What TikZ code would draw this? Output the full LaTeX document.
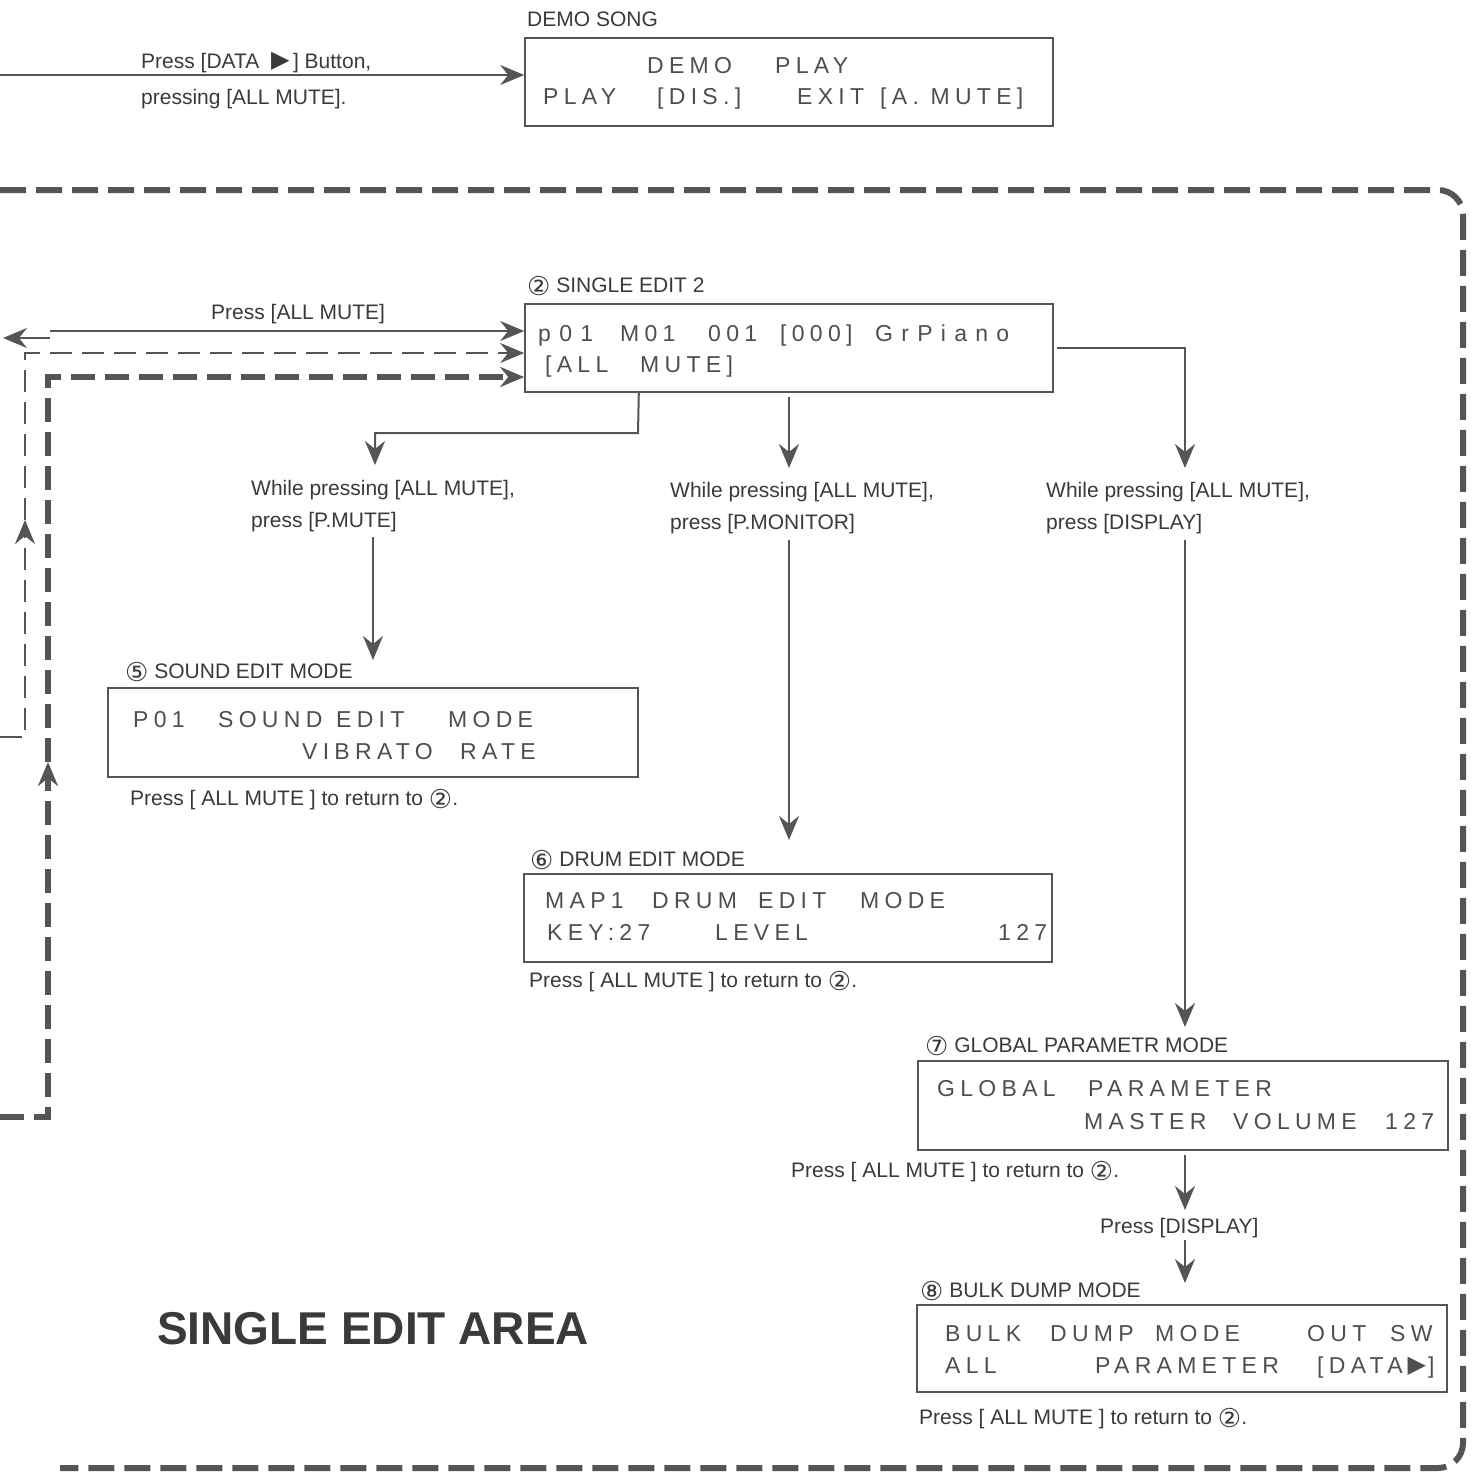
\documentclass[tikz,border=0pt]{standalone}
\usepackage{fontspec}
\setmainfont{Liberation Sans}
\newfontfamily\lcdfont[LetterSpace=23]{Liberation Sans}
\newfontfamily\lcdwide[LetterSpace=36]{Liberation Sans}
\newfontfamily\symfont{DejaVu Sans}
\usetikzlibrary{arrows.meta}
\definecolor{ink}{HTML}{3A3A3A}
\definecolor{linec}{HTML}{555555}
\newcommand\cnum[1]{{\symfont\fontsize{26}{28}\selectfont\raisebox{-3.5pt}{#1}}}
\newcommand\tri{{\symfont\fontsize{24}{26}\selectfont\raisebox{0.5pt}{▶}}}
\begin{document}
\begin{tikzpicture}[x=1pt,y=-1pt,
  >={Stealth[length=24pt,width=20pt,inset=8pt]},
  lbl/.style={anchor=base west, inner sep=0pt, text=ink, font=\fontsize{21}{25}\selectfont},
  lcd/.style={anchor=base west, inner sep=0pt, text=ink!90, font=\lcdfont\fontsize{23}{27}\selectfont},
  lcdw/.style={lcd, font=\lcdwide\fontsize{23}{27}\selectfont},
  lcdbox/.style={draw=linec, line width=1.6pt, inner sep=0pt},
  conn/.style={draw=linec, line width=2pt},
  thindash/.style={draw=linec, line width=2.5pt, dash pattern=on 22pt off 10pt},
  thickdash/.style={draw=linec, line width=6pt, dash pattern=on 24pt off 10pt},
  frame/.style={draw=linec, line width=6pt, dash pattern=on 26pt off 10pt, rounded corners=25pt}]
\useasboundingbox (0,0) rectangle (1475,1473);
\fill[white] (0,0) rectangle (1475,1473);

% frame
\draw[frame] (0,190) -- (1463,190) -- (1463,1468) -- (60,1468);

% boxes
\node[lcdbox, minimum width=528pt, minimum height=88pt] (demo) at (789,82) {};
\node[lcdbox, minimum width=528pt, minimum height=88pt] (s2) at (789,348) {};
\node[lcdbox, minimum width=530pt, minimum height=89pt] (snd) at (373,732.5) {};
\node[lcdbox, minimum width=528pt, minimum height=88pt] (drum) at (788,918) {};
\node[lcdbox, minimum width=530pt, minimum height=89pt] (glob) at (1183,1105.5) {};
\node[lcdbox, minimum width=530pt, minimum height=87pt] (bulk) at (1182,1348.5) {};

% demo song
\node[lbl] (ldemo) at (527,26) {DEMO SONG};
\node[lcd] (d11) at (647,73) {DEMO};
\node[lcd] (d12) at (775,73) {PLAY};
\node[lcd] (d21) at (543,104) {PLAY};
\node[lcd] (d22) at (657,104) {[DIS.]};
\node[lcd] (d23) at (797,104) {EXIT};
\node[lcd] (d24) at (880,104) {[A. MUTE]};

% single edit 2
\node[lbl] (ls2) at (527,292) {\cnum{②} SINGLE EDIT 2};
\node[lcdw] (s11) at (538,341) {p01};
\node[lcd] (s12) at (620,341) {M01};
\node[lcd] (s13) at (708,341) {001};
\node[lcd] (s14) at (780,341) {[000]};
\node[lcdw] (s15) at (875,341) {GrPiano};
\node[lcd] (s21) at (545,372) {[ALL};
\node[lcd] (s22) at (640,372) {MUTE]};

% sound edit
\node[lbl] (lsnd) at (125,678) {\cnum{⑤} SOUND EDIT MODE};
\node[lcd] (n11) at (133,727) {P01};
\node[lcd] (n12) at (218,727) {SOUND};
\node[lcd] (n13) at (336,727) {EDIT};
\node[lcd] (n14) at (448,727) {MODE};
\node[lcd] (n21) at (302,759) {VIBRATO};
\node[lcd] (n22) at (460,759) {RATE};
\node[lbl] (rsnd) at (130,805) {Press [ ALL MUTE ] to return to \cnum{②}.};

% drum edit
\node[lbl] (ldrum) at (530,866) {\cnum{⑥} DRUM EDIT MODE};
\node[lcd] (m11) at (545,908) {MAP1};
\node[lcd] (m12) at (652,908) {DRUM};
\node[lcd] (m13) at (758,908) {EDIT};
\node[lcd] (m14) at (860,908) {MODE};
\node[lcd] (m21) at (547,940) {KEY:27};
\node[lcd] (m22) at (715,940) {LEVEL};
\node[lcd] (m23) at (998,940) {127};
\node[lbl] (rdrum) at (529,987) {Press [ ALL MUTE ] to return to \cnum{②}.};

% global
\node[lbl] (lglob) at (925,1052) {\cnum{⑦} GLOBAL PARAMETR MODE};
\node[lcd] (g11) at (937,1096) {GLOBAL};
\node[lcd] (g12) at (1088,1096) {PARAMETER};
\node[lcd] (g21) at (1084,1129) {MASTER};
\node[lcd] (g22) at (1233,1129) {VOLUME};
\node[lcd] (g23) at (1385,1129) {127};
\node[lbl] (rglob) at (791,1177) {Press [ ALL MUTE ] to return to \cnum{②}.};

% bulk
\node[lbl] (lbulk) at (920,1297) {\cnum{⑧} BULK DUMP MODE};
\node[lcd] (k11) at (945,1341) {BULK};
\node[lcd] (k12) at (1050,1341) {DUMP};
\node[lcd] (k13) at (1155,1341) {MODE};
\node[lcd] (k14) at (1307,1341) {OUT};
\node[lcd] (k15) at (1390,1341) {SW};
\node[lcd] (k21) at (945,1373) {ALL};
\node[lcd] (k22) at (1095,1373) {PARAMETER};
\node[lcd] (k23) at (1317,1373) {[DATA\hspace{5pt}\tri\hspace{2pt}]};
\node[lbl] (rbulk) at (919,1424) {Press [ ALL MUTE ] to return to \cnum{②}.};

% title
\node[anchor=base west, inner sep=0pt, text=ink, font=\fontsize{46}{50}\selectfont\bfseries] (title) at (157,1344) {SINGLE EDIT AREA};

% arrow to demo
\node[lbl] (la1) at (141,68) {Press [DATA\ \ \tri\,] Button,};
\node[lbl] (la2) at (141,104) {pressing [ALL MUTE].};
\coordinate (a0) at (0,75);
\draw[conn,->] (a0) -- (a0 -| demo.west);

% arrows into s2
\node[lbl] (lb) at (211,319) {Press [ALL MUTE]};
\coordinate (b0) at (50,331);
\draw[conn,->] (b0) -- (b0 -| s2.west);
\coordinate (b1) at (50,338);
\coordinate (b2) at (3,338);
\draw[conn,->] (b1) -- (b2);

\coordinate (c0) at (0,737);
\coordinate (c1) at (25,737);
\coordinate (cm) at (25,520);
\coordinate (c2) at (25,353);
\draw[thindash,->] (c0) -- (c1) -- (cm);
\draw[thindash,->] (cm) -- (c2) -- (c2 -| s2.west);

\coordinate (e0) at (0,1117);
\coordinate (e1) at (48,1117);
\coordinate (em) at (48,762);
\coordinate (e2) at (48,377);
\draw[thickdash,->] (e0) -- (e1) -- (em);
\draw[thickdash,->] (em) -- (e2) -- (e2 -| s2.west);

% branch to sound edit
\node[lbl] (w1a) at (251,495) {While pressing [ALL MUTE],};
\node[lbl] (w1b) at (251,527) {press [P.MUTE]};
\coordinate (f0) at (s2.south -| snd.north east);
\coordinate (f1) at (638,433);
\coordinate (f2) at (375,433);
\coordinate (f3) at (375,465);
\draw[conn,->] (f0) -- (f1) -- (f2) -- (f3);
\coordinate (f4) at (373,537);
\coordinate (f5) at (373,660);
\draw[conn,->] (f4) -- (f5);

% branch to drum edit
\node[lbl] (w2a) at (670,497) {While pressing [ALL MUTE],};
\node[lbl] (w2b) at (670,529) {press [P.MONITOR]};
\coordinate (h0) at (789,397);
\coordinate (h1) at (789,468);
\draw[conn,->] (h0) -- (h1);
\coordinate (h2) at (789,540);
\coordinate (h3) at (789,840);
\draw[conn,->] (h2) -- (h3);

% branch to global
\node[lbl] (w3a) at (1046,497) {While pressing [ALL MUTE],};
\node[lbl] (w3b) at (1046,529) {press [DISPLAY]};
\coordinate (i0) at (1057,348);
\coordinate (i1) at (1185,348);
\coordinate (i2) at (1185,468);
\draw[conn,->] (i0) -- (i1) -- (i2);
\coordinate (i3) at (1185,540);
\coordinate (i4) at (1185,1027);
\draw[conn,->] (i3) -- (i4);

% global to bulk
\node[lbl] (lpd) at (1100,1233) {Press [DISPLAY]};
\coordinate (j0) at (1185,1155);
\coordinate (j1) at (1185,1210);
\draw[conn,->] (j0) -- (j1);
\coordinate (j2) at (1185,1240);
\coordinate (j3) at (1185,1283);
\draw[conn,->] (j2) -- (j3);
\end{tikzpicture}
\end{document}
